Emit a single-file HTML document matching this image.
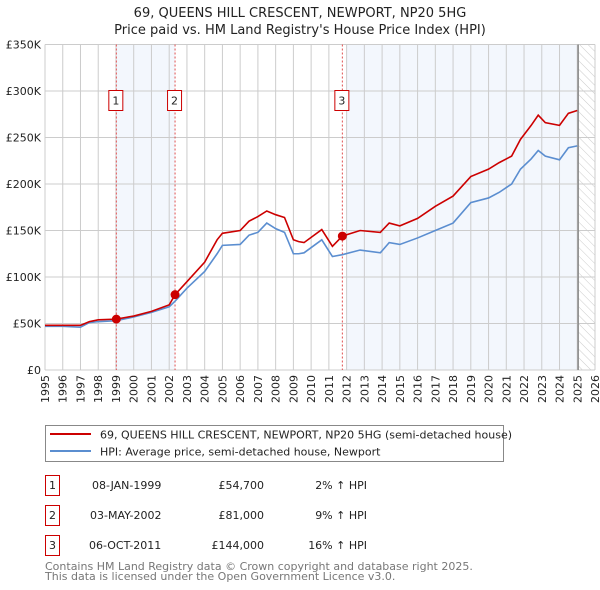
<!DOCTYPE html>
<html><head><meta charset="utf-8"><style>
body{margin:0;background:#fff;}
svg{display:block;font-family:"DejaVu Sans","Liberation Sans",sans-serif;}
</style></head><body>
<svg id="c" width="600" height="590" viewBox="0 0 600 590">
<text x="300" y="17" text-anchor="middle" font-size="13" fill="#222">69, QUEENS HILL CRESCENT, NEWPORT, NP20 5HG</text>
<text x="300" y="34" text-anchor="middle" font-size="13" fill="#222">Price paid vs. HM Land Registry's House Price Index (HPI)</text>
<defs><pattern id="hatch" width="6" height="6" patternUnits="userSpaceOnUse" patternTransform="rotate(-45)"><line x1="0" y1="0" x2="0" y2="6" stroke="#ccc" stroke-width="1"/></pattern></defs>
<g id="grid"></g>
<g id="marks"></g>
<g id="legend">
<rect x="45.5" y="425.5" width="458" height="36" fill="#fff" stroke="#888"/>
<line x1="50" y1="434" x2="91" y2="434" stroke="#cc0000" stroke-width="2"/>
<text x="100" y="438.5" font-size="11" fill="#222">69, QUEENS HILL CRESCENT, NEWPORT, NP20 5HG (semi-detached house)</text>
<line x1="50" y1="451" x2="91" y2="451" stroke="#5b8ed0" stroke-width="2"/>
<text x="100" y="455.5" font-size="11" fill="#222">HPI: Average price, semi-detached house, Newport</text>
</g>
<g font-size="11" fill="#222">
<rect x="45.5" y="475.5" width="14" height="20" fill="#fff" stroke="#cc0000"/><text x="52.5" y="489" text-anchor="middle">1</text>
<text x="92" y="489">08-JAN-1999</text><text x="264" y="489" text-anchor="end">£54,700</text><text x="367" y="489" text-anchor="end">2% ↑ HPI</text>
<rect x="45.5" y="505.5" width="14" height="20" fill="#fff" stroke="#cc0000"/><text x="52.5" y="519" text-anchor="middle">2</text>
<text x="90" y="519">03-MAY-2002</text><text x="264" y="519" text-anchor="end">£81,000</text><text x="367" y="519" text-anchor="end">9% ↑ HPI</text>
<rect x="45.5" y="535.5" width="14" height="20" fill="#fff" stroke="#cc0000"/><text x="52.5" y="549" text-anchor="middle">3</text>
<text x="89" y="549">06-OCT-2011</text><text x="264" y="549" text-anchor="end">£144,000</text><text x="367" y="549" text-anchor="end">16% ↑ HPI</text>
</g>
<text x="45" y="570" font-size="11" fill="#777">Contains HM Land Registry data © Crown copyright and database right 2025.</text>
<text x="45" y="580" font-size="11" fill="#777">This data is licensed under the Open Government Licence v3.0.</text>
</svg>
<script>
const hpiYears=[1995,1996,1997,1997.5,1998,1999,2000,2001,2002,2002.33,2003,2004,2004.7,2005,2006,2006.5,2007,2007.5,2008,2008.5,2009,2009.3,2009.6,2010.6,2011.2,2011.76,2012.76,2013.9,2014.4,2015,2016,2017,2018,2019,2020,2020.6,2021.3,2021.8,2022.4,2022.8,2023.2,2024,2024.5,2025];
const hpiValues=[47,47,46,51,52,53,57,62,68,74,88,106,125,134,135,145,148,158,152,148,125,125,126,140,122,124,129,126,137,135,142,150,158,180,185,191,200,216,227,236,230,226,239,241];
const propValues=[48,48,48,52,54,54.7,58,63,70,81,95,116,140,147,150,160,165,171,167,164,140,138,137,151,133,144,150,148,158,155,163,176,187,208,216,223,230,248,263,274,266,263,276,279];
const sales=[{n:'1',y:1999.02,v:54.7},{n:'2',y:2002.33,v:81},{n:'3',y:2011.76,v:144}];
const yTicks=[0,50,100,150,200,250,300,350];
const yTickLabels=['£0','£50K','£100K','£150K','£200K','£250K','£300K','£350K'];
const xTicks=[1995,1996,1997,1998,1999,2000,2001,2002,2003,2004,2005,2006,2007,2008,2009,2010,2011,2012,2013,2014,2015,2016,2017,2018,2019,2020,2021,2022,2023,2024,2025,2026];
const X0=45,X1=595,Y0=370,Y1=44.5;
const xs=y=>X0+(y-1995)*(X1-X0)/31;
const ys=v=>Y0-v*(Y0-Y1)/350;
const NS='http://www.w3.org/2000/svg';
function mk(t,a,p){const e=document.createElementNS(NS,t);for(const k in a)e.setAttribute(k,a[k]);p.appendChild(e);return e;}
const g=document.getElementById('grid'),m=document.getElementById('marks');
// shaded bands
let b1=mk('rect',{x:xs(1999.02),y:Y1,width:xs(2002.33)-xs(1999.02),height:Y0-Y1,fill:'#eef3fc',opacity:0.7},g);


let b2=mk('rect',{x:xs(2012),y:Y1,width:xs(2025.05)-xs(2012),height:Y0-Y1,fill:'#eef3fc',opacity:0.7},g);


let h=mk('rect',{x:xs(2025.05),y:Y1,width:X1-xs(2025.05),height:Y0-Y1,fill:'url(#hatch)'},g);


yTicks.forEach((v,i)=>{
 mk('line',{x1:X0,x2:X1,y1:ys(v),y2:ys(v),stroke:'#ccc'},g);
 const t=mk('text',{x:X0-4,y:ys(v)+4,'text-anchor':'end','font-size':11,fill:'#222'},g);
 
 
 t.textContent=yTickLabels[i];
});
xTicks.forEach(y=>{
 mk('line',{x1:xs(y),x2:xs(y),y1:Y1,y2:Y0,stroke:'#ccc'},g);
 const t=mk('text',{x:0,y:0,'text-anchor':'end','font-size':11,fill:'#222',transform:`translate(${xs(y)+4},${Y0+5}) rotate(-90)`},g);
 
 
 t.textContent=y;
});
mk('line',{x1:xs(2025.05),x2:xs(2025.05),y1:Y1,y2:Y0,stroke:'#888','stroke-width':1.5},g);
sales.forEach(s=>{
 const l=mk('line',{x1:xs(s.y),x2:xs(s.y),y1:Y1,y2:Y0,stroke:'#e05050','stroke-dasharray':'2,2'},m);
 
 
 const r=mk('rect',{x:xs(s.y)-7.5,y:90.5,width:14,height:20,fill:'#fff',stroke:'#cc0000'},m);
 
 
 const t=mk('text',{x:xs(s.y)-0.5,y:104.5,'text-anchor':'middle','font-size':11,fill:'#222'},m);
 t.textContent=s.n;
});
const line=(vals,col,name)=>{
 const p=mk('polyline',{points:hpiYears.map((y,i)=>xs(y)+','+ys(vals[i])).join(' '),fill:'none',stroke:col,'stroke-width':1.6},m);
 
 
};
line(hpiValues,'#5b8ed0','hpi-line');
line(propValues,'#cc0000','property-line');
sales.forEach(s=>{
 const c=mk('circle',{cx:xs(s.y),cy:ys(s.v),r:4.5,fill:'#cc0000'},m);
 
 
});
</script>
</body></html>
